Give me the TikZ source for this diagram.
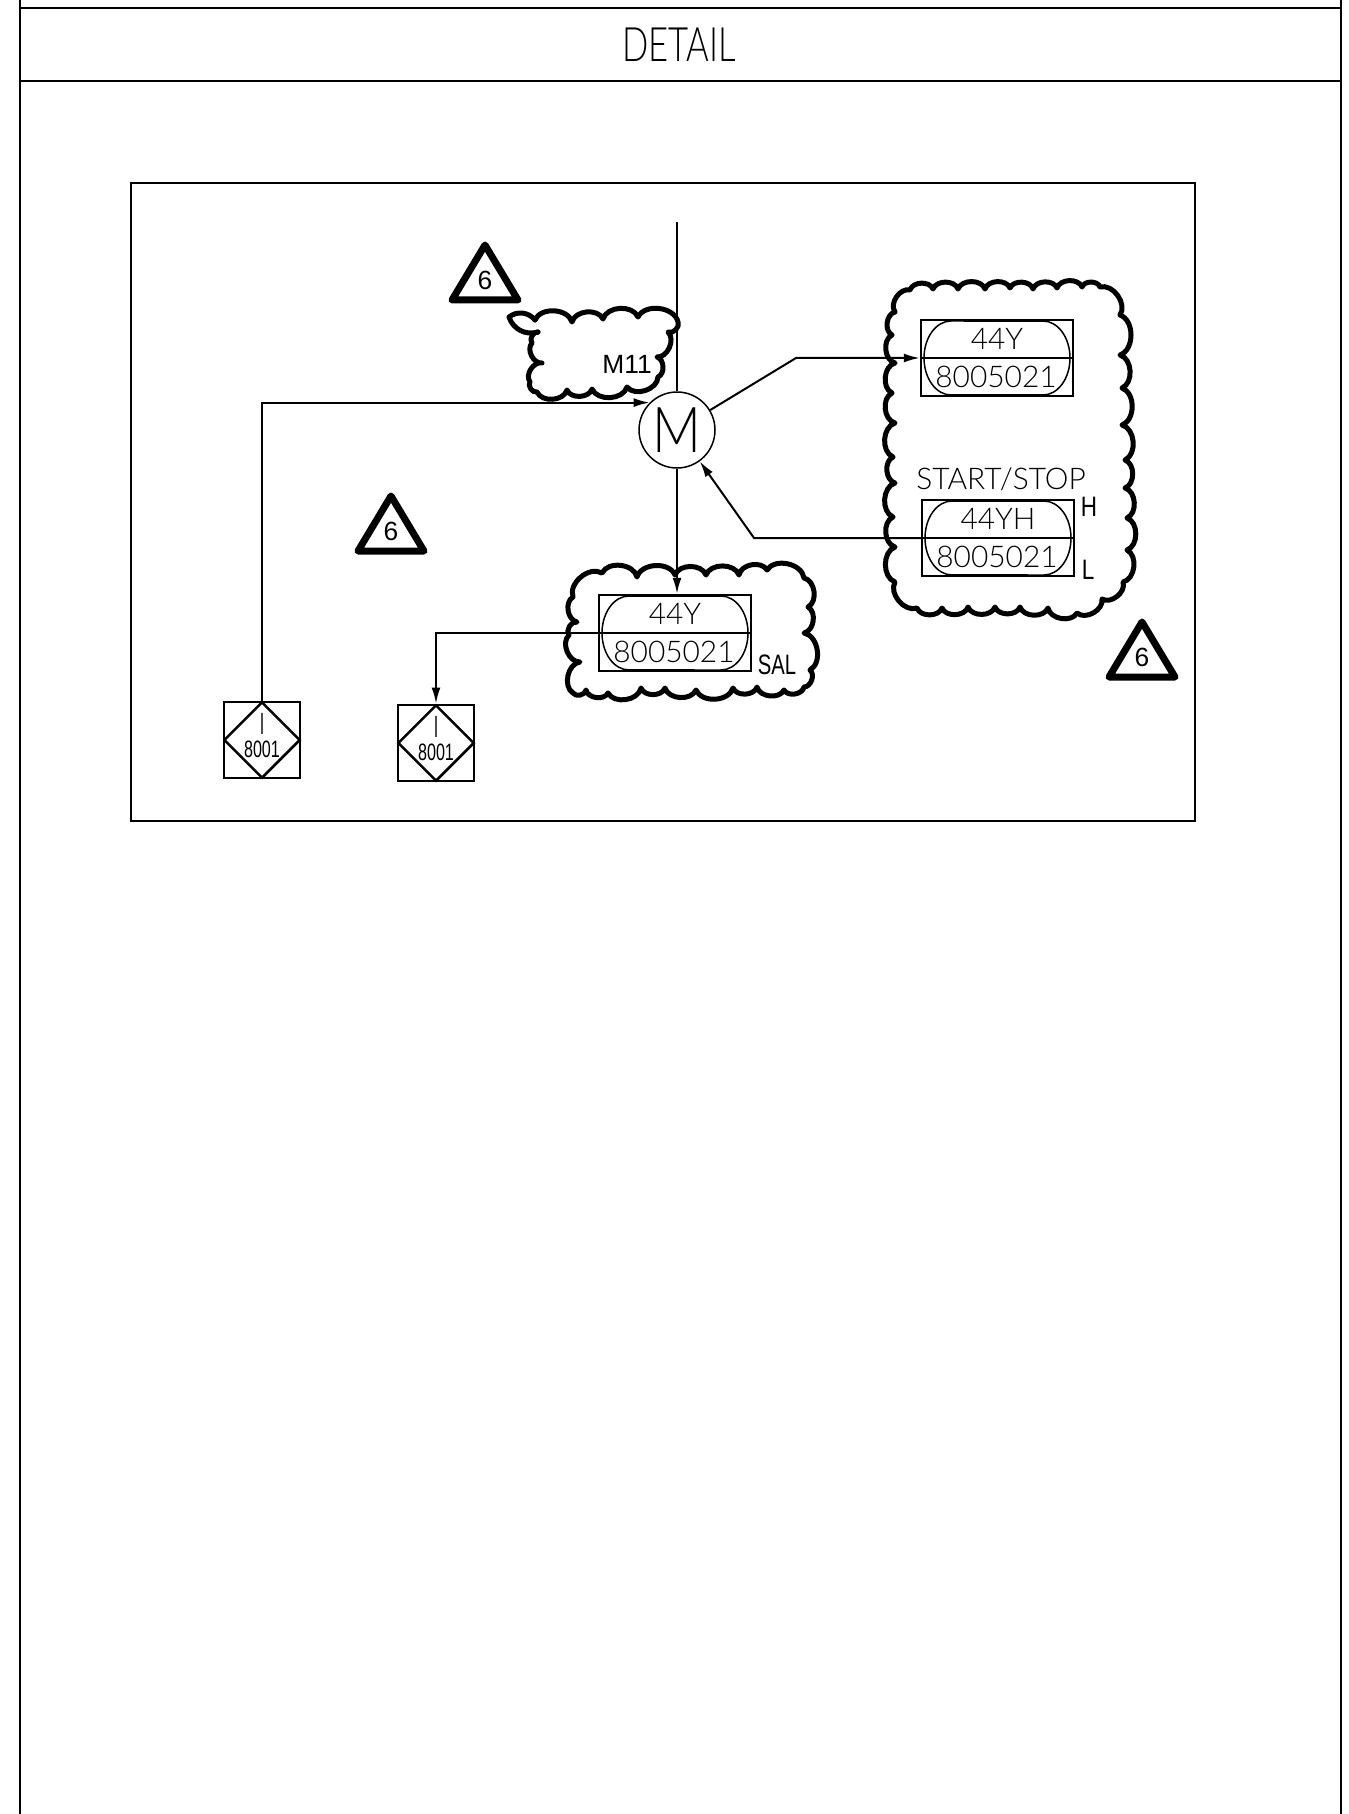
\documentclass[tikz,border=0pt]{standalone}
\usepackage{fontspec}
\setmainfont{Liberation Sans}
\newfontfamily\cadfont{Lato}[UprightFont=* Light]
\usetikzlibrary{arrows.meta,shapes.geometric}
\tikzset{
    wire/.style={line width=0.04cm},
    frameline/.style={line width=0.045cm},
    cloudline/.style={line width=0.1cm, line join=round, line cap=round},
    scallop/.style={bend left=70},
    revmark/.style={line width=0.14cm, line join=round},
    instbox/.style={draw, line width=0.05cm, minimum width=3.04cm, minimum height=1.52cm, inner sep=0},
    cadtext/.style={font=\cadfont\fontsize{17}{20}\selectfont, inner sep=0},
    smalltag/.style={font=\fontsize{16}{18}\selectfont, inner sep=0},
    signbox/.style={draw, line width=0.05cm, minimum size=1.53cm, inner sep=0},
    signdiamond/.style={draw, diamond, line width=0.05cm, minimum size=1.53cm, inner sep=0},
    >={Latex[length=0.32cm,width=0.18cm]}
}
\begin{document}
\begin{tikzpicture}[x=0.02cm, y=-0.02cm]
    \useasboundingbox (0,0) rectangle (1348,1814);

    % sheet and detail frames
    \draw[frameline] (20,0) -- (20,1814) (1341,0) -- (1341,1814);
    \draw[frameline] (20,8) -- (1341,8) (20,81) -- (1341,81);
    \draw[frameline] (131,183) rectangle (1195,821);
    \node[font=\cadfont\fontsize{27}{30}\selectfont, inner sep=0, xscale=0.73] (title) at (679,45) {DETAIL};

    % motor
    \node[draw, circle, line width=0.03cm, minimum size=1.52cm, inner sep=0] (motor) at (677,430) {};
    \node[font=\cadfont\fontsize{36}{40}\selectfont, inner sep=0, xscale=0.85] (motortag) at (677,430) {M};
    \coordinate (feedtop) at (677,222);

    % instruments
    \foreach \n/\cx/\cy/\tag in {sal/675/633/44Y, ydown/997/358/44Y, yh/998/538/44YH} {
        \node[instbox] (\n) at (\cx,\cy) {};
        \draw[line width=0.03cm] (\cx-46,\cy-37) arc[start angle=90, end angle=270, x radius=0.54cm, y radius=0.74cm]
            -- (\cx+46,\cy+37) arc[start angle=-90, end angle=90, x radius=0.54cm, y radius=0.74cm] -- cycle;
        \draw[line width=0.03cm] (\n.west) -- (\n.east);
        \node[cadtext] (\n tag) at (\cx,\cy-19) {\tag};
        \node[cadtext] (\n num) at (\cx-1,\cy+19) {8005021};
    }
    \node[cadtext] (startstop) at (1001,479) {START/STOP};
    \node[smalltag, xscale=0.8] (high) at (1089,507) {H};
    \node[smalltag, xscale=0.8] (low) at (1088,570) {L};
    \node[smalltag, xscale=0.72] (saltag) at (777,665) {SAL};
    \node[font=\fontsize{15}{18}\selectfont, inner sep=0] (m11tag) at (627,364) {M11};

    % interlock signs
    \foreach \n/\cx/\cy in {signa/262/740, signb/436/743} {
        \node[signbox] (\n) at (\cx,\cy) {};
        \node[signdiamond] (\n d) at (\cx,\cy) {};
        \node[cadtext, xscale=0.9] (\n i) at (\cx,\cy-16) {I};
        \node[font=\fontsize{13.5}{16}\selectfont, inner sep=0, xscale=0.68] (\n num) at (\cx,\cy+9) {8001};
    }

    % connectors
    \draw[wire] (feedtop) -- (motor.north);
    \draw[wire, ->] (motor.south) -- (sal.north -| motor.south);
    \draw[wire, ->] (signa.north) |- (motor.135);
    \draw[wire, ->] (motor.31) -- (796,358) -- (ydown.west);
    \draw[wire, ->] (yh.west) -- (754,538) -- (motor.-54);
    \draw[wire, ->] (sal.west) -| (signb.north);

    % revision clouds
    \draw[cloudline] (895,312) foreach \px/\py in {910/290,933/289,958/289,985/289,1010/288,1033/289,1057/288,1082/287,1100/287,1120/315,1120/355,1122/388,1122/425,1125/460,1125/488,1127/518,1127/550,1123/582,1102/599,1077/613,1048/608,1020/607,995/607,968/607,942/608,917/608,895/582,895/547,893/517,895/483,893/457,895/423,892/393,895/363,892/335,895/312} {to[scallop] (\px,\py)};
    \draw[cloudline] (573,597) foreach \px/\py in {602/573,637/577,675/575,706/575,739/575,767/570,804/578,808/607,804/633,810/670,804/687,784/690,757/687,733/688,696/690,665/688,641/688,608/693,586/690,573/693,580/662,569/635,577/622,573/597} {to[scallop] (\px,\py)};
    \draw[cloudline] (535,320) foreach \px/\py in {572/322,603/319,638/317,678/322,668/332,657/357,658/377,627/387,592/389,567/390,537/392,530/382,542/363,532/343,538/332} {to[scallop] (\px,\py)};
    \coordinate (leaf) at (509,317);
    \draw[cloudline] (538,332) to[bend left=45] (leaf) to[bend left=45] (535,320);

    % revision marks
    \foreach \n/\tx/\ty in {reva/485/300, revb/391/551, revc/1142/677} {
        \draw[revmark] (\tx-33,\ty) -- (\tx,\ty-55) -- (\tx+33,\ty) -- cycle;
        \node[font=\fontsize{15}{18}\selectfont, inner sep=0] (\n) at (\tx,\ty-20) {6};
    }
\end{tikzpicture}
\end{document}
